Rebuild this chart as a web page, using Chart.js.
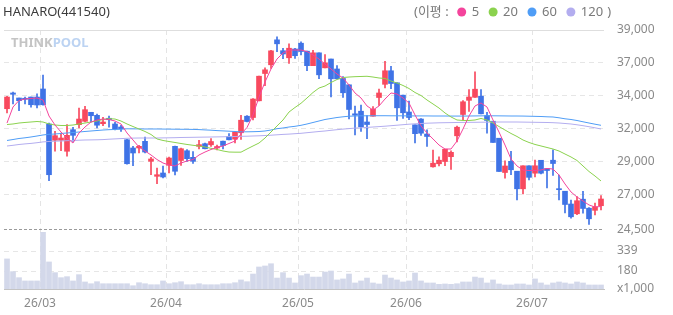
<!DOCTYPE html>
<html>
<head>
<meta charset="utf-8">
<script src="https://cdn.jsdelivr.net/npm/chart.js@4.4.1/dist/chart.umd.min.js"></script>
<style>
  html, body { margin: 0; padding: 0; background: #fff; }
  #wrap { width: 673px; height: 315px; position: relative; }
</style>
</head>
<body>
<div id="wrap"><canvas id="myChart"></canvas></div>
<script>
var title = "HANARO(441540)";

// daily candles, 2026-02-20 .. 2026-07-16
var opens  = [33275,34420,34055,34035,34125,34125,34710,32165,30980,30980,30180,31750,32115,32360,33015,32795,32185,32580,32165,31945,
              31020,30420,30420,30905,29450,28360,28600,29160,30540,29510,30220,29740,30540,30730,30650,30420,30915,31255,31060,31525,
              32730,32635,33850,35835,36470,38285,37495,36980,37620,38040,37460,36405,37340,36250,36890,36165,35475,35015,32905,33095,
              32310,32730,34090,35050,36035,35160,34260,33035,32105,32525,31435,29050,29270,29435,29785,31305,32855,33885,34105,34185,
              32780,32365,31130,28635,29450,28730,27450,29125,28585,29525,28925,29530,27460,27275,26345,25635,26695,26040,25885,26220];
var highs  = [34180,34490,34055,34125,34125,34365,35725,32235,31630,31510,32115,31925,33325,33450,33015,32890,32650,32745,32285,32070,
              31050,30540,30615,31220,29740,28965,29110,29765,30565,30420,30295,30165,30980,30780,31110,30635,30925,31475,31605,32800,
              32780,34020,35655,36250,37525,38505,37675,37995,37670,38140,37475,37530,37340,37205,36890,36405,35620,35015,33475,33545,
              32780,33435,34710,36730,36365,35160,34260,33835,32105,32565,31740,30260,29780,30330,30220,32020,33860,34675,35960,34675,
              33015,32365,31130,29485,30185,28730,29125,29125,29545,29525,28925,30285,28455,27275,26635,26890,27275,26090,26405,26950];
var lows   = [32965,33620,33130,33620,33380,33325,33525,28040,30180,30220,29815,30905,31875,32310,32310,31875,32040,31925,31725,31630,
              29250,29130,30055,30055,28475,27820,28235,28600,28455,29160,29450,29290,30345,30345,30525,30275,30345,31000,30780,31035,
              32310,32455,33835,34950,36200,37415,36915,36565,36940,37195,36040,36405,35460,36235,34140,35435,34090,32525,31365,31620,
              31095,32730,33510,34780,34730,32420,32565,32475,30795,31325,30525,29015,29110,29130,28855,30855,32470,33075,34105,32905,
              31495,30820,28710,28220,28470,26650,27085,28090,28310,28540,27510,28420,26635,25690,25315,25570,25675,24855,25545,25910];
var closes = [34125,34325,33860,33960,33565,33545,33565,28475,31315,31145,31340,31340,32525,33205,32765,32075,32310,32475,31820,31820,
              29275,30055,30540,30125,29620,28475,28310,29690,28725,30365,29640,29450,30660,30365,30890,30525,30600,31015,31580,32440,
              32345,33980,35640,36105,37485,37995,37255,37675,37130,37435,36405,37340,35740,36615,35450,35450,34435,33220,32805,31960,
              32125,33240,34420,36035,35110,33340,32980,32635,31460,31495,31255,29315,29530,30330,30105,31930,33780,34125,34695,32905,
              32420,30820,28710,29110,28835,27450,29125,28285,29125,28585,28780,29290,27385,26310,25415,26585,26020,25270,26145,26710];
// volume, x1,000 shares
var volumes = [276,175,127,101,101,101,492,252,167,127,135,101,151,93,79,95,79,79,79,79,
               79,63,87,79,71,71,101,79,87,95,71,71,79,71,71,71,79,79,87,109,
               95,156,212,220,238,124,167,124,85,143,156,132,132,172,180,109,117,156,85,101,
               124,85,77,148,124,109,93,101,164,101,85,85,74,77,74,79,93,93,132,124,
               85,109,77,69,69,77,77,69,117,85,69,85,93,85,77,93,85,69,69,69];

// moving averages as drawn
var ma5   = [32235,33400,33875,33980,34020,34055,33910,32745,32090,31580,31145,30780,31510,31945,32310,32455,32525,32490,32380,32165,
             31510,31000,30490,30200,29910,29580,29325,29180,29110,29325,29475,29580,29910,30125,30310,30455,30565,30745,30925,31435,
             31910,32820,34125,35220,36165,36890,37325,37545,37545,37545,37435,37180,36890,36525,36165,35800,35510,35000,34420,34055,
             33475,33180,33475,33980,34420,34345,34055,33690,32820,32020,31510,31075,30635,30345,30345,30925,31800,32745,33475,33690,
             33400,32455,31580,30635,29620,29110,28820,28780,28780,28820,28930,28890,28455,27800,27220,26855,26565,26275,26125,26165];
var ma20  = [32125,32165,32235,32275,32310,32345,32310,32165,32090,32055,32055,32090,32165,32235,32310,32380,32490,32550,32525,32380,
             32165,31980,31800,31620,31400,31075,30965,30890,30820,30745,30675,30615,30565,30490,30395,30310,30200,30125,30115,30115,
             30345,30565,30780,31145,31580,32020,32455,33035,33365,33670,34055,34455,34780,34925,35180,35400,35545,35580,35605,35620,
             35635,35580,35510,35475,35290,35145,34965,34745,34455,34235,33910,33620,33325,32965,32675,32455,32420,32420,32455,32565,
             32455,32235,31980,31725,31475,31255,31000,30820,30675,30565,30455,30345,30200,29980,29765,29510,29110,28710,28380,28020];
var ma60  = [30965,31035,31110,31160,31220,31290,31365,31415,31435,31475,31510,31545,31580,31620,31655,31690,31725,31750,31765,31780,
             31815,31810,31805,31800,31800,31800,31795,31790,31785,31780,31778,31770,31756,31734,31713,31683,31662,31640,31618,31596,
             31596,31604,31618,31655,31727,31822,31873,31945,31996,32069,32164,32273,32382,32491,32564,32636,32687,32731,32745,32760,
             32760,32765,32765,32765,32760,32760,32755,32755,32750,32750,32750,32745,32745,32745,32740,32740,32740,32745,32750,32755,
             32760,32760,32755,32750,32745,32745,32740,32730,32720,32709,32687,32673,32615,32542,32491,32418,32324,32236,32149,32069];
var ma120 = [30564,30614,30673,30716,30753,30803,30862,30891,30913,30927,30949,30964,30985,31000,31007,31015,31029,31058,31080,31102,
             31124,31138,31145,31145,31145,31145,31153,31160,31167,31182,31189,31196,31204,31211,31218,31225,31233,31247,31255,31269,
             31276,31291,31305,31327,31349,31378,31407,31429,31458,31487,31531,31574,31618,31655,31705,31749,31793,31829,31866,31887,
             31916,31945,31974,32004,32040,32076,32113,32149,32178,32200,32222,32236,32251,32258,32265,32273,32280,32287,32287,32295,
             32295,32302,32309,32309,32309,32309,32302,32295,32287,32280,32273,32258,32236,32200,32164,32106,32040,31967,31887,31800];

var maNames  = ["5", "20", "60", "120"];
var maColors = ["#f4449c", "#8bd24e", "#4f9df6", "#b3adef"];

// y axis ticks (labels are the chart's rounded values)
var priceTicks  = [39000, 36600, 34200, 31800, 29400, 27000, 24500];
var priceLabels = ["39,000", "37,000", "34,000", "32,000", "29,000", "27,000", "24,500"];
var volTicks  = [37, 180, 339];
var volLabels = ["x1,000", "180", "339"];

var holidays = ["2026-03-02", "2026-05-01", "2026-05-05", "2026-05-25", "2026-06-03"];

// trading days
var dates = [];
for (var d = new Date(Date.UTC(2026, 1, 20)); dates.length < closes.length; d.setUTCDate(d.getUTCDate() + 1)) {
  var iso = d.toISOString().slice(0, 10);
  var dow = d.getUTCDay();
  if (dow == 0 || dow == 6 || holidays.indexOf(iso) >= 0) continue;
  dates.push(iso);
}
function monthStart(i) {
  return i > 0 && i < dates.length && dates[i].slice(5, 7) != dates[i - 1].slice(5, 7);
}

var UP = "#f8495e", DOWN = "#3f73e6";
var candleColor = function (ctx) {
  var i = ctx.dataIndex;
  return closes[i] >= opens[i] ? UP : DOWN;
};

Chart.defaults.font.family = '"Noto Sans", "Noto Sans CJK KR", sans-serif';
Chart.defaults.font.size = 12;

var header = {
  id: "header",
  beforeDatasetsDraw: function (chart) {
    var c = chart.ctx;
    c.save();
    c.textBaseline = "middle";
    c.font = 'bold 13px "Noto Sans", sans-serif';
    c.fillStyle = "#c4c4c4";
    c.fillText("THINK", 11, 43);
    var w = c.measureText("THINK").width;
    c.fillStyle = "#bcd3f2";
    c.fillText("POOL", 11 + w, 43);
    c.restore();
  },
  afterDraw: function (chart) {
    var c = chart.ctx;
    c.save();
    c.textBaseline = "middle";
    c.font = '13px "Noto Sans", "Noto Sans CJK KR", sans-serif';
    c.fillStyle = "#3c3c3c";
    c.fillText(title, 3, 12);

    c.fillStyle = "#7a7a7a";
    var x = 414, y = 12;
    c.fillText("(이평 :", x, y);
    x += c.measureText("(이평 :").width + 13;
    for (var k = 0; k < maNames.length; k++) {
      c.beginPath();
      c.arc(x, y, 4.5, 0, Math.PI * 2);
      c.fillStyle = maColors[k];
      c.fill();
      c.fillStyle = "#7a7a7a";
      c.fillText(maNames[k], x + 10, y);
      x += 10 + c.measureText(maNames[k]).width + 14;
    }
    c.fillText(")", x - 10, y);
    c.restore();
  }
};

var datasets = [];
for (var k = 0; k < maNames.length; k++) {
  datasets.push({
    type: "line",
    data: [ma5, ma20, ma60, ma120][k],
    borderColor: maColors[k],
    borderWidth: 1,
    pointRadius: 0,
    tension: 0,
    yAxisID: "y",
    order: 0
  });
}
datasets.push({
  data: opens.map(function (o, i) { return [o, closes[i]]; }),
  backgroundColor: candleColor,
  barThickness: 5,
  minBarLength: 1,
  grouped: false,
  borderSkipped: false,
  yAxisID: "y",
  order: 1
});
datasets.push({
  data: lows.map(function (l, i) { return [l, highs[i]]; }),
  backgroundColor: candleColor,
  barThickness: 1,
  grouped: false,
  borderSkipped: false,
  yAxisID: "y",
  order: 2
});
datasets.push({
  data: volumes,
  backgroundColor: "#d3d8ea",
  barThickness: 5,
  grouped: false,
  yAxisID: "v",
  order: 3
});

new Chart("myChart", {
  type: "bar",
  data: { labels: dates, datasets: datasets },
  options: {
    responsive: true,
    maintainAspectRatio: false,
    animation: false,
    layout: { padding: { top: 30, left: 3, right: 0, bottom: 0 } },
    plugins: { legend: { display: false }, tooltip: { enabled: false } },
    scales: {
      x: {
        offset: true,
        grid: {
          offset: true,
          drawTicks: false,
          color: function (ctx) { return monthStart(ctx.index) ? "#e4e4e4" : "transparent"; }
        },
        border: { display: true, color: "#c4c4c4", dash: [5, 4] },
        ticks: {
          autoSkip: false,
          maxRotation: 0,
          padding: 7,
          labelOffset: -3,
          color: "#8a8a8a",
          callback: function (v, i) {
            return monthStart(i) ? dates[i].slice(2, 4) + "/" + dates[i].slice(5, 7) : "";
          }
        },
        afterFit: function (s) { s.height = 26; }
      },
      y: {
        position: "right",
        stack: "main",
        stackWeight: 202,
        min: 24309,
        max: 39000,
        afterBuildTicks: function (s) { s.ticks = priceTicks.map(function (v) { return { value: v }; }); },
        afterFit: function (s) { s.width = 69; },
        grid: {
          drawTicks: false,
          color: function (ctx) {
            if (ctx.index == 0) return "#dedede";
            if (ctx.index == priceTicks.length - 1) return "#9a9a9a";
            return "#e6e6e6";
          }
        },
        border: {
          display: false,
          dash: function (ctx) {
            if (ctx.index == 0) return [];
            if (ctx.index == priceTicks.length - 1) return [3, 2];
            return [5, 4];
          }
        },
        ticks: {
          autoSkip: false,
          padding: 13,
          color: "#8a8a8a",
          callback: function (v, i) { return priceLabels[i]; }
        }
      },
      v: {
        position: "right",
        stack: "main",
        stackWeight: 57,
        min: 37,
        max: 490,
        afterBuildTicks: function (s) { s.ticks = volTicks.map(function (v) { return { value: v }; }); },
        afterFit: function (s) { s.width = 69; },
        grid: {
          drawTicks: false,
          color: function (ctx) { return ctx.index == 0 ? "transparent" : "#e6e6e6"; }
        },
        border: { display: false, dash: [5, 4] },
        ticks: {
          autoSkip: false,
          padding: 13,
          color: "#8a8a8a",
          callback: function (v, i) { return volLabels[i]; }
        }
      }
    }
  },
  plugins: [header]
});
</script>
</body>
</html>
